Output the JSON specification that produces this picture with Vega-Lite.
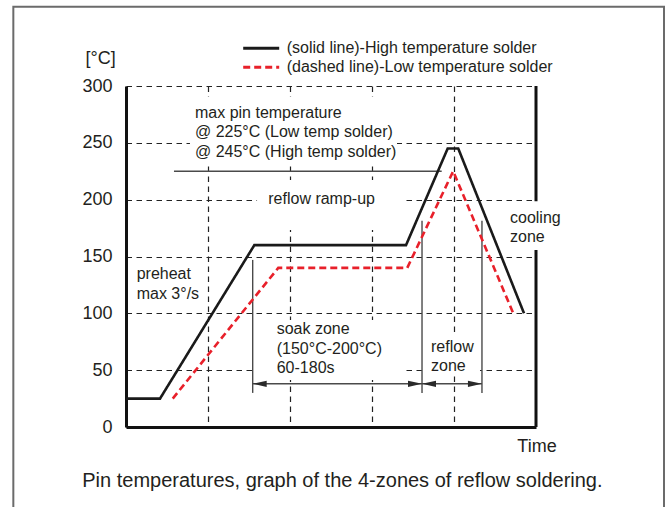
{
  "$schema": "https://vega.github.io/schema/vega-lite/v6.json",
  "width": 410,
  "height": 341,
  "autosize": {"type": "none"},
  "padding": {"left": 126, "top": 86, "right": 131, "bottom": 80},
  "background": "white",
  "datasets": {
    "frame": [{"x": -1.374, "x2": 6.561, "y": 369.8, "y2": -100}],
    "rightaxis": [{"x": 5, "x2": 5, "y": 0, "y2": 300}],
    "profile": [
      {"series": "(solid line)-High temperature solder", "x": 0, "y": 25},
      {"series": "(solid line)-High temperature solder", "x": 0.415, "y": 25},
      {"series": "(solid line)-High temperature solder", "x": 1.565, "y": 160},
      {"series": "(solid line)-High temperature solder", "x": 3.415, "y": 160},
      {"series": "(solid line)-High temperature solder", "x": 3.923, "y": 245},
      {"series": "(solid line)-High temperature solder", "x": 4.052, "y": 245},
      {"series": "(solid line)-High temperature solder", "x": 4.854, "y": 100},
      {"series": "(dashed line)-Low temperature solder", "x": 0.57, "y": 25},
      {"series": "(dashed line)-Low temperature solder", "x": 1.857, "y": 140},
      {"series": "(dashed line)-Low temperature solder", "x": 3.43, "y": 140},
      {"series": "(dashed line)-Low temperature solder", "x": 3.99, "y": 225},
      {"series": "(dashed line)-Low temperature solder", "x": 4.723, "y": 100}
    ],
    "boxes": [
      {"x": 0.78, "x2": 3.305, "y": 230.5, "y2": 290.5},
      {"x": 1.598, "x2": 3.378, "y": 173.3, "y2": 217.3},
      {"x": 1.573, "x2": 3.4, "y": 41.4, "y2": 94.1},
      {"x": 3.634, "x2": 4.317, "y": 45.7, "y2": 82.7},
      {"x": 4.634, "x2": 5.354, "y": 155.7, "y2": 198.5}
    ],
    "guides": [
      {"x": 1.545, "x2": 1.545, "y": 30, "y2": 147},
      {"x": 3.61, "x2": 3.61, "y": 30, "y2": 181.5},
      {"x": 4.341, "x2": 4.341, "y": 30, "y2": 181.5},
      {"x": 1.545, "x2": 4.341, "y": 38, "y2": 38},
      {"x": 0.585, "x2": 3.85, "y": 225, "y2": 225}
    ],
    "arrows": [
      {"x": 1.545, "y": 38, "dir": "left"},
      {"x": 3.61, "y": 38, "dir": "right"},
      {"x": 3.61, "y": 38, "dir": "left"},
      {"x": 4.341, "y": 38, "dir": "right"}
    ],
    "labels": [
      {"x": 0.841, "y": 272, "text": "max pin temperature\n@ 225°C (Low temp solder)\n@ 245°C (High temp solder)"},
      {"x": 1.735, "y": 196.2, "text": "reflow ramp-up"},
      {"x": 0.13, "y": 130.2, "text": "preheat\nmax 3°/s"},
      {"x": 1.838, "y": 81.6, "text": "soak zone\n(150°C-200°C)\n60-180s"},
      {"x": 3.72, "y": 66, "text": "reflow\nzone"},
      {"x": 4.683, "y": 179.7, "text": "cooling\nzone"}
    ],
    "caption": [
      {"x": 2.639, "y": -52.8, "text": "Pin temperatures, graph of the 4-zones of reflow soldering."}
    ]
  },
  "encoding": {
    "x": {
      "field": "x",
      "type": "quantitative",
      "scale": {"domain": [0, 5], "nice": false, "zero": false},
      "axis": {
        "values": [1, 2, 3, 4],
        "grid": true,
        "gridDash": [5.5, 4.5],
        "gridColor": "#222222",
        "gridWidth": 1.2,
        "labels": false,
        "ticks": false,
        "domainColor": "#111111",
        "domainWidth": 3,
        "title": "Time",
        "titleFontSize": 18,
        "titleFontWeight": "normal",
        "titleColor": "#231f20",
        "titleX": 410.5,
        "titleY": 24.7,
        "titleAlign": "center",
        "titleBaseline": "alphabetic",
        "titleAngle": 0
      }
    },
    "y": {
      "field": "y",
      "type": "quantitative",
      "scale": {"domain": [0, 300], "nice": false, "zero": false},
      "axis": {
        "values": [0, 50, 100, 150, 200, 250, 300],
        "grid": true,
        "gridDash": [5.5, 4.5],
        "gridColor": "#222222",
        "gridWidth": 1.2,
        "ticks": false,
        "domainColor": "#111111",
        "domainWidth": 3,
        "labelFontSize": 18,
        "labelPadding": 14,
        "labelColor": "#231f20",
        "title": "[°C]",
        "titleAngle": 0,
        "titleAlign": "left",
        "titleBaseline": "alphabetic",
        "titleX": -41,
        "titleY": -23,
        "titleFontSize": 18,
        "titleFontWeight": "normal",
        "titleColor": "#231f20"
      }
    }
  },
  "layer": [
    {
      "data": {"name": "frame"},
      "mark": {"type": "rect", "fill": "white", "fillOpacity": 0, "stroke": "#6b6b6b", "strokeWidth": 2, "clip": false},
      "encoding": {
        "x2": {"field": "x2"},
        "y2": {"field": "y2"}
      }
    },
    {
      "data": {"name": "rightaxis"},
      "mark": {"type": "rule", "color": "#111111", "strokeWidth": 3},
      "encoding": {
        "x2": {"field": "x2"},
        "y2": {"field": "y2"}
      }
    },
    {
      "data": {"name": "boxes"},
      "mark": {"type": "rect", "fill": "white", "strokeWidth": 0},
      "encoding": {
        "x2": {"field": "x2"},
        "y2": {"field": "y2"}
      }
    },
    {
      "data": {"name": "guides"},
      "mark": {"type": "rule", "color": "#4a4a4a", "strokeWidth": 1.4},
      "encoding": {
        "x2": {"field": "x2"},
        "y2": {"field": "y2"}
      }
    },
    {
      "data": {"name": "arrows"},
      "transform": [{"filter": "datum.dir === 'left'"}],
      "mark": {"type": "point", "shape": "M0,0L1,-0.22L1,0.22Z", "filled": true, "size": 784, "color": "#2a2a2a", "opacity": 1}
    },
    {
      "data": {"name": "arrows"},
      "transform": [{"filter": "datum.dir === 'right'"}],
      "mark": {"type": "point", "shape": "M0,0L-1,-0.22L-1,0.22Z", "filled": true, "size": 784, "color": "#2a2a2a", "opacity": 1}
    },
    {
      "data": {"name": "profile"},
      "mark": {"type": "line", "strokeWidth": 2.6, "strokeCap": "butt", "strokeJoin": "miter"},
      "encoding": {
        "color": {
          "field": "series",
          "type": "nominal",
          "scale": {"domain": ["(solid line)-High temperature solder", "(dashed line)-Low temperature solder"], "range": ["#1a1a1a", "#e8202a"]},
          "legend": {
            "orient": "none", "legendX": 115.7, "legendY": -46.2, "title": null, "padding": 0,
            "symbolType": "stroke", "symbolSize": 1296, "symbolStrokeWidth": 3,
            "labelFontSize": 16, "labelLimit": 0, "labelOffset": 6, "labelColor": "#231f20",
            "clipHeight": 17, "rowPadding": 2
          }
        },
        "strokeDash": {
          "field": "series",
          "type": "nominal",
          "scale": {"domain": ["(solid line)-High temperature solder", "(dashed line)-Low temperature solder"], "range": [[1, 0], [7, 4]]},
          "legend": {
            "orient": "none", "legendX": 115.7, "legendY": -46.2, "title": null, "padding": 0,
            "symbolType": "stroke", "symbolSize": 1296, "symbolStrokeWidth": 3,
            "labelFontSize": 16, "labelLimit": 0, "labelOffset": 6, "labelColor": "#231f20",
            "clipHeight": 17, "rowPadding": 2
          }
        }
      }
    },
    {
      "data": {"name": "labels"},
      "mark": {"type": "text", "align": "left", "baseline": "alphabetic", "fontSize": 16, "lineHeight": 19.5, "lineBreak": "\n", "color": "#231f20"},
      "encoding": {
        "text": {"field": "text"}
      }
    },
    {
      "data": {"name": "caption"},
      "mark": {"type": "text", "align": "center", "baseline": "alphabetic", "fontSize": 20, "color": "#231f20", "clip": false},
      "encoding": {
        "text": {"field": "text"}
      }
    }
  ],
  "config": {
    "font": "Liberation Sans",
    "view": {"stroke": null}
  }
}
